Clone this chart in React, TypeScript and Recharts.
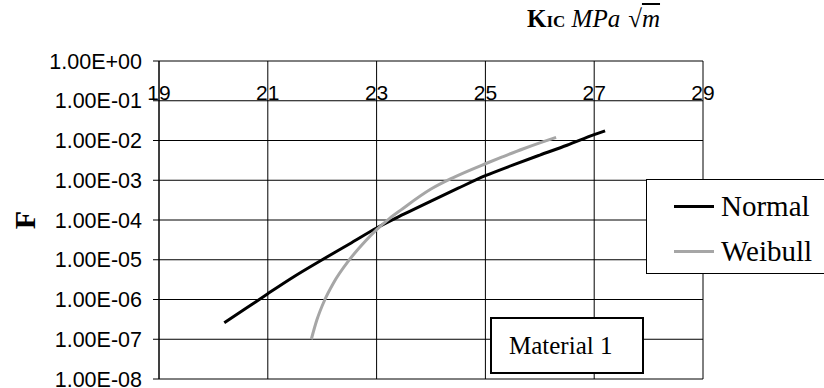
import { LineChart, Line, XAxis, YAxis, CartesianGrid, Legend } from 'recharts';

// K_IC values (MPa·√m) and cumulative failure probability for each fit
const normalK = [20.2, 20.6, 21, 21.5, 22, 22.5, 23, 23.5, 24, 24.5, 25, 25.5, 26, 26.5, 27, 27.2];
const normalF = [2.6e-7, 6e-7, 1.4e-6, 3.9e-6, 1e-5, 2.5e-5, 6.3e-5, 1.4e-4, 3e-4, 6.3e-4, 1.3e-3, 2.4e-3, 4.3e-3, 7.6e-3, 1.4e-2, 1.75e-2];

const weibullK = [21.8, 21.9, 22.05, 22.2, 22.5, 22.8, 23, 23.24, 23.45, 24, 24.4, 25, 25.3, 25.7, 26, 26.3];
const weibullF = [1e-7, 3e-7, 1e-6, 2.5e-6, 1e-5, 3e-5, 5.7e-5, 1.1e-4, 1.8e-4, 6e-4, 1.15e-3, 2.6e-3, 3.8e-3, 6.2e-3, 8.7e-3, 1.2e-2];

const xTicks = [19, 21, 23, 25, 27, 29];
const yTicks = [1e-8, 1e-7, 1e-6, 1e-5, 1e-4, 1e-3, 1e-2, 1e-1, 1];

const normalData = normalK.map((k, i) => ({ k, f: normalF[i] }));
const weibullData = weibullK.map((k, i) => ({ k, f: weibullF[i] }));

const SANS = '"Liberation Sans", Arial, sans-serif';
const SERIF = '"Liberation Serif", "Times New Roman", serif';

// Excel-style scientific labels: 1.00E-04
function sci(v: number) {
  const [m, e] = v.toExponential(2).split('e');
  const sign = e[0] === '-' ? '-' : '+';
  return `${m}E${sign}${e.replace(/[+-]/, '').padStart(2, '0')}`;
}

// K labels sit just above the 0.1 gridline, as in the spreadsheet original
function XTick({ x, payload }: { x?: number; payload?: { value: number } }) {
  return (
    <text x={x} y={100} textAnchor="middle" fontFamily={SANS} fontSize={21} fill="#000">
      {payload?.value}
    </text>
  );
}

function LegendBox({ payload }: { payload?: { value: string; color: string }[] }) {
  return (
    <div
      style={{
        width: 190, height: 89, background: '#fff', border: '1px solid #000',
        boxSizing: 'content-box', paddingTop: 4,
      }}
    >
      {payload?.map((p) => (
        <div key={p.value} style={{ display: 'flex', alignItems: 'center', height: 45 }}>
          <span style={{ display: 'inline-block', width: 40, height: 3, background: p.color, marginLeft: 27, marginRight: 7 }} />
          <span style={{ fontFamily: SERIF, fontSize: 29, color: '#000', lineHeight: 1 }}>{p.value}</span>
        </div>
      ))}
    </div>
  );
}

export default function App() {
  return (
    <div style={{ position: 'absolute', left: 0, top: 0, width: 824, height: 388, overflow: 'hidden', background: '#fff' }}>
      <LineChart width={824} height={388} margin={{ top: 60, right: 121, bottom: 9, left: 0 }}>
        <CartesianGrid stroke="#000" strokeWidth={1} />
        <XAxis
          dataKey="k"
          type="number"
          orientation="top"
          domain={[19, 29]}
          ticks={xTicks}
          interval={0}
          height={1}
          axisLine={false}
          tickLine={false}
          tick={<XTick />}
          allowDuplicatedCategory={false}
        />
        <YAxis
          dataKey="f"
          type="number"
          scale="log"
          domain={[1e-8, 1]}
          ticks={yTicks}
          interval={0}
          allowDataOverflow
          width={159}
          tickSize={6}
          tickMargin={11}
          stroke="#000"
          tickFormatter={sci}
          tick={{ fontFamily: SANS, fontSize: 21.5, fill: '#000' }}
          label={{
            content: ({ viewBox }: { viewBox?: { x: number; y: number; height: number } }) => {
              const cy = (viewBox?.y ?? 0) + (viewBox?.height ?? 0) / 2;
              return (
                <text
                  x={24}
                  y={cy}
                  transform={`rotate(-90, 24, ${cy})`}
                  textAnchor="middle"
                  dominantBaseline="central"
                  fontFamily={SERIF}
                  fontWeight="bold"
                  fontSize={30}
                  fill="#000"
                >
                  F
                </text>
              );
            },
          }}
        />
        <Line
          data={normalData}
          dataKey="f"
          name="Normal"
          type="monotone"
          stroke="#000"
          strokeWidth={3}
          dot={false}
          isAnimationActive={false}
        />
        <Line
          data={weibullData}
          dataKey="f"
          name="Weibull"
          type="monotone"
          stroke="#a6a6a6"
          strokeWidth={3}
          dot={false}
          isAnimationActive={false}
        />
        <Legend
          layout="vertical"
          align="center"
          verticalAlign="middle"
          content={<LegendBox />}
          wrapperStyle={{ position: 'absolute', left: 646, top: 179, width: 'auto', height: 'auto' }}
        />
      </LineChart>

      <div
        style={{
          position: 'absolute', left: 527, top: 4, fontFamily: SERIF, fontSize: 25,
          color: '#000', whiteSpace: 'nowrap', lineHeight: '30px',
        }}
      >
        <b>K</b>
        <b style={{ fontSize: 17 }}>IC</b>
        <i> MPa</i>
        <span style={{ marginLeft: 8 }}>√</span>
        <i style={{ textDecoration: 'overline' }}>m</i>
      </div>

      <div
        style={{
          position: 'absolute', left: 490, top: 317, width: 133, height: 53,
          border: '2px solid #000', background: '#fff', fontFamily: SERIF, fontSize: 25,
          color: '#000', display: 'flex', alignItems: 'center', paddingLeft: 17, boxSizing: 'content-box',
          whiteSpace: 'nowrap',
        }}
      >
        Material 1
      </div>
    </div>
  );
}
